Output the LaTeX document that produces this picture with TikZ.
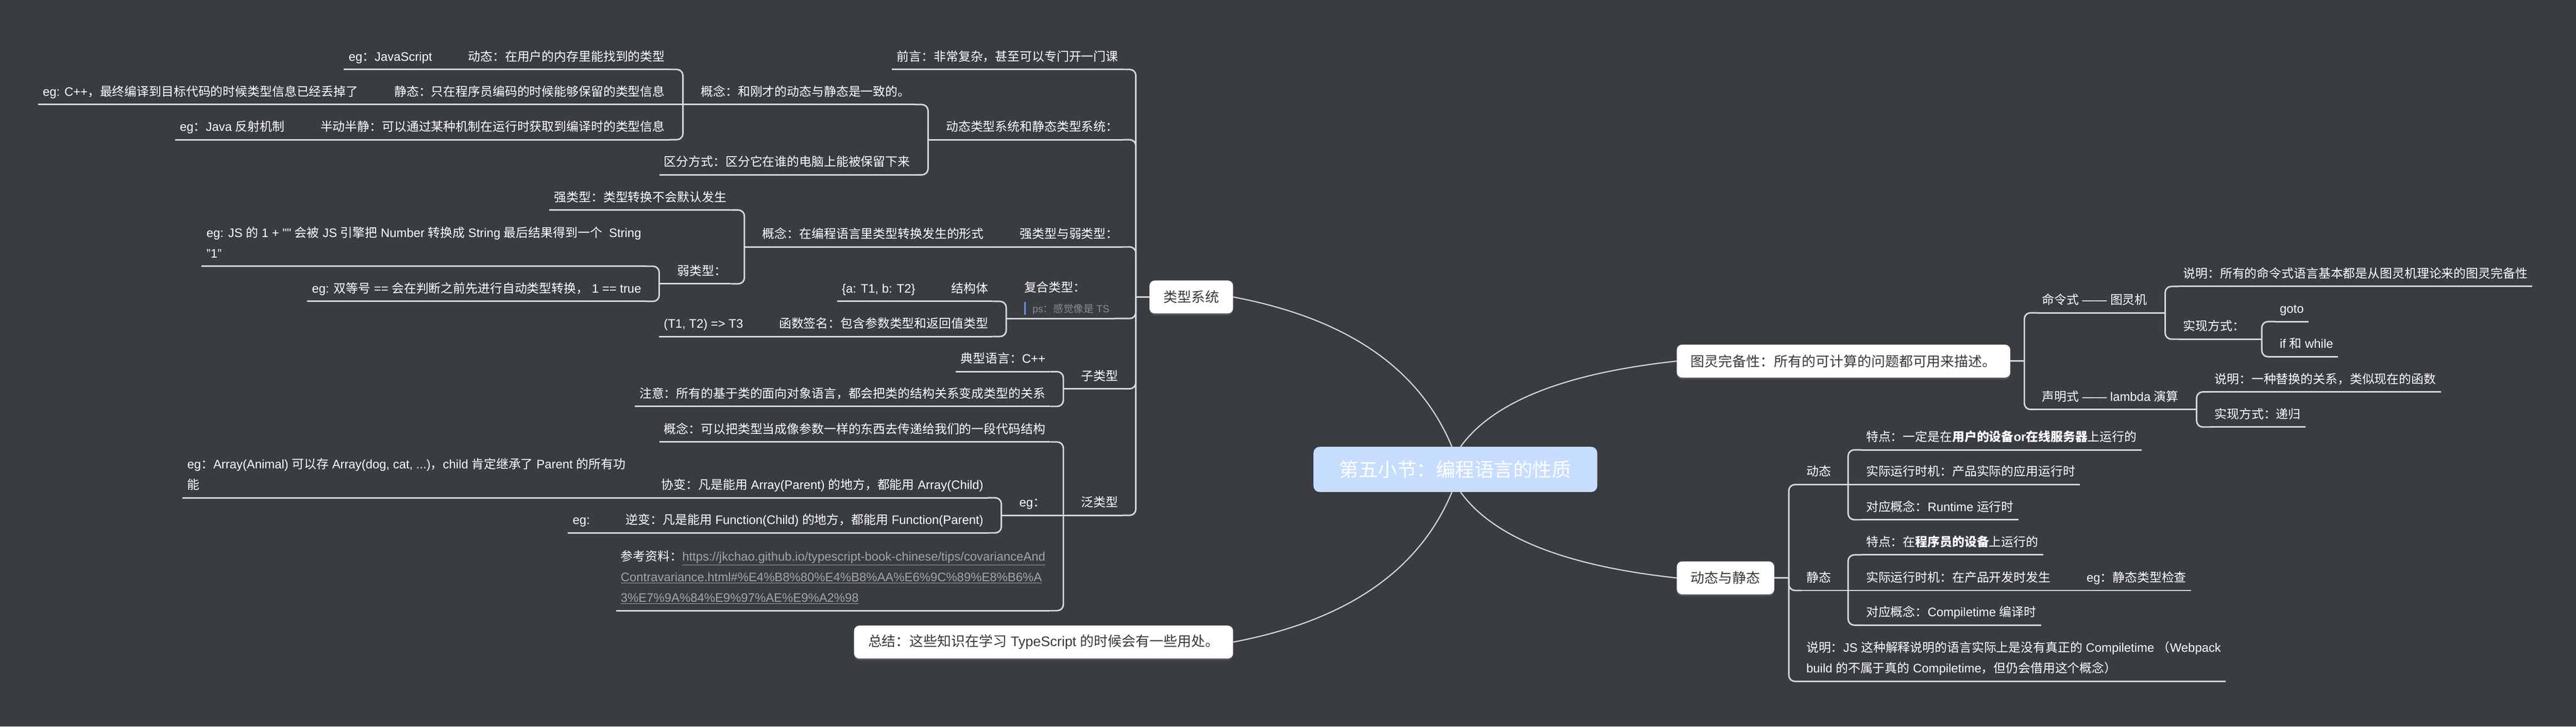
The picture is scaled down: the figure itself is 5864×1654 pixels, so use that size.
\documentclass[tikz,border=0pt]{standalone}
\usepackage{fontspec}
\setmainfont{Liberation Sans}
\newfontfamily\latfont{Liberation Sans}
\newfontfamily\cjkfont{Noto Sans CJK SC}
\usetikzlibrary{calc,shadows}

\definecolor{bgdark}{HTML}{393C41}
\definecolor{linegrey}{HTML}{D9D9D9}
\definecolor{rootblue}{HTML}{C6DDFF}
\definecolor{boxtext}{HTML}{383838}
\definecolor{linkgrey}{HTML}{A5A5A5}
\definecolor{notegrey}{HTML}{8C8C8C}
\definecolor{barblue}{HTML}{6B93F5}

% Han characters and full-width punctuation in Noto Sans CJK, the rest in Liberation Sans
\XeTeXinterchartokenstate=1
\newXeTeXintercharclass\hanclass
\newcount\hancnt
\newcommand\hanrange[2]{\hancnt=#1\relax
  \loop\XeTeXcharclass\hancnt=\hanclass\relax
  \advance\hancnt by 1\relax
  \ifnum\hancnt<#2\relax\repeat}
\hanrange{"3000}{"3040}
\hanrange{"4E00}{"A000}
\hanrange{"FF00}{"FFF0}
\XeTeXinterchartoks 0 \hanclass = {\cjkfont}
\XeTeXinterchartoks 4095 \hanclass = {\cjkfont}
\XeTeXinterchartoks \hanclass 0 = {\latfont}
\XeTeXinterchartoks \hanclass 4095 = {\latfont}

\begin{document}
\begin{tikzpicture}[x=0.5pt, y=-0.5pt,
    topic/.style={font=\fontsize{14}{23.5}\selectfont, text=white, inner xsep=5.5pt, inner ysep=0pt, outer sep=0pt, text depth=9.7pt},
    lft/.style={topic, anchor=south east},
    rgt/.style={topic, anchor=south west},
    mainbox/.style={fill=white, rounded corners=6pt, text=boxtext, font=\fontsize{15.8}{18}\selectfont, inner xsep=16pt, inner ysep=0pt, outer sep=0pt, minimum height=37.5pt, drop shadow={shadow xshift=0pt, shadow yshift=-2pt, opacity=.35}},
    rootbox/.style={fill=rootblue, rounded corners=7pt, text=white, font=\fontsize{22}{26}\selectfont, minimum width=323pt, minimum height=51.5pt},
    branch/.style={draw=linegrey, line width=1.7pt},
    rootlink/.style={draw=linegrey, line width=1.3pt}]
    \useasboundingbox (0,0) rectangle (5864,1654);
    \fill[bgdark] (0,0) rectangle (5864,1654);

    \node[rootbox] (root) at (3313,1068.5) {第五小节：编程语言的性质};
    \node[mainbox, anchor=east] (types) at (2807,676) {类型系统};
    \node[mainbox, anchor=west] (turing) at (3817,822) {图灵完备性：所有的可计算的问题都可用来描述。};
    \node[mainbox, anchor=west] (dynsta) at (3817,1315.5) {动态与静态};
    \node[mainbox, anchor=east] (summary) at (2807,1461.5) {总结：这些知识在学习 TypeScript 的时候会有一些用处。};

    \draw[rootlink] (types.east) .. controls +(254,48) and +(-76,-182) .. ($(root.north)+(-8,0)$);
    \draw[rootlink] (turing.west) .. controls +(-251,27) and +(75,-104) .. ($(root.north)+(12,0)$);
    \draw[rootlink] (dynsta.west) .. controls +(-251,-27) and +(75,104) .. ($(root.south)+(12,0)$);
    \draw[rootlink] (summary.east) .. controls +(254,-48) and +(-76,182) .. ($(root.south)+(-8,0)$);

    % type system
    \node[lft] (preface) at ($(types.west)+(-60,-518)$) {前言：非常复杂，甚至可以专门开一门课};
    \node[lft] (dynstat) at ($(types.west)+(-60,-358)$) {动态类型系统和静态类型系统：};
    \node[lft] (strongweak) at ($(types.west)+(-60,-114)$) {强类型与弱类型：};
    \node[lft, text depth=7pt] (compound) at ($(types.west)+(-80,49)$) {\vbox{\hbox{复合类型：}\hbox{{\color{barblue}\vrule width 2pt height 12pt depth 3pt}\hspace{7.5pt}{\color{notegrey}\fontsize{11.5}{14}\selectfont ps：感觉像是 TS}}}};
    \node[lft] (subtype) at ($(types.west)+(-60,209)$) {子类型};
    \node[lft] (generic) at ($(types.west)+(-60,497)$) {泛类型};

    \node[lft] (conceptA) at ($(dynstat.south west)+(-60,-80)$) {概念：和刚才的动态与静态是一致的。};
    \node[lft] (distinguish) at ($(dynstat.south west)+(-60,80)$) {区分方式：区分它在谁的电脑上能被保留下来};
    \node[lft] (dynA) at ($(conceptA.south west)+(-60,-80)$) {动态：在用户的内存里能找到的类型};
    \node[lft] (staA) at ($(conceptA.south west)+(-60,0)$) {静态：只在程序员编码的时候能够保留的类型信息};
    \node[lft] (halfA) at ($(conceptA.south west)+(-60,80)$) {半动半静：可以通过某种机制在运行时获取到编译时的类型信息};
    \node[lft] (egJS) at ($(dynA.south west)+(-60,0)$) {eg：JavaScript};
    \node[lft] (egCpp) at ($(staA.south west)+(-60,0)$) {eg: C++，最终编译到目标代码的时候类型信息已经丢掉了};
    \node[lft] (egJava) at ($(halfA.south west)+(-60,0)$) {eg：Java 反射机制};

    \node[lft] (conceptB) at ($(strongweak.south west)+(-60,0)$) {概念：在编程语言里类型转换发生的形式};
    \node[lft] (strong) at ($(conceptB.south west)+(-60,-84)$) {强类型：类型转换不会默认发生};
    \node[lft] (weak) at ($(conceptB.south west)+(-60,84)$) {弱类型：};
    \node[lft] (egPlus) at ($(weak.south west)+(-60,-40)$) {\vbox{\hbox{eg: JS 的 1 + "" 会被 JS 引擎把 Number 转换成 String 最后结果得到一个 \ String}\hbox{"1"}}};
    \node[lft] (egEq) at ($(weak.south west)+(-60,40)$) {eg: 双等号 == 会在判断之前先进行自动类型转换， 1 == true};

    \node[lft] (struct) at ($(compound.south west)+(-60,-39)$) {结构体};
    \node[lft] (funcsig) at ($(compound.south west)+(-60,41)$) {函数签名：包含参数类型和返回值类型};
    \node[lft] (structEx) at ($(struct.south west)+(-60,0)$) {\{a: T1, b: T2\}};
    \node[lft] (funcEx) at ($(funcsig.south west)+(-60,0)$) {(T1, T2) => T3};

    \node[lft] (typical) at ($(subtype.south west)+(-60,-39)$) {典型语言：C++};
    \node[lft] (caution) at ($(subtype.south west)+(-60,40)$) {注意：所有的基于类的面向对象语言，都会把类的结构关系变成类型的关系};

    \node[lft] (conceptC) at ($(generic.south west)+(-60,-167)$) {概念：可以把类型当成像参数一样的东西去传递给我们的一段代码结构};
    \node[lft] (egVar) at ($(generic.south west)+(-60,0)$) {eg：};
    \node[lft] (reference) at ($(generic.south west)+(-60,217)$) {\vbox{\hbox{参考资料：{\color{linkgrey}\underline{https://jkchao.github.io/typescript-book-chinese/tips/covarianceAnd}}}\hbox{\color{linkgrey}\underline{Contravariance.html\#\%E4\%B8\%80\%E4\%B8\%AA\%E6\%9C\%89\%E8\%B6\%A}}\hbox{\color{linkgrey}\underline{3\%E7\%9A\%84\%E9\%97\%AE\%E9\%A2\%98}}}};
    \node[lft] (covariant) at ($(egVar.south west)+(-60,-40)$) {协变：凡是能用 Array(Parent) 的地方，都能用 Array(Child)};
    \node[lft] (contravariant) at ($(egVar.south west)+(-60,40)$) {逆变：凡是能用 Function(Child) 的地方，都能用 Function(Parent)};
    \node[lft] (covEx) at ($(covariant.south west)+(-60,0)$) {\vbox{\hbox{eg：Array(Animal) 可以存 Array(dog, cat, ...)，child 肯定继承了 Parent 的所有功}\hbox{能}}};
    \node[lft] (contraEx) at ($(contravariant.south west)+(-60,0)$) {eg:};

    % turing completeness
    \node[rgt] (imperative) at ($(turing.east)+(61,-110)$) {命令式 —— 图灵机};
    \node[rgt] (declarative) at ($(turing.east)+(61,110)$) {声明式 —— lambda 演算};
    \node[rgt] (impNote) at ($(imperative.south east)+(60,-60)$) {说明：所有的命令式语言基本都是从图灵机理论来的图灵完备性};
    \node[rgt] (impWay) at ($(imperative.south east)+(60,60)$) {实现方式：};
    \node[rgt] (gotoStmt) at ($(impWay.south east)+(58,-40)$) {goto};
    \node[rgt] (ifWhile) at ($(impWay.south east)+(58,40)$) {if 和 while};
    \node[rgt] (decNote) at ($(declarative.south east)+(60,-40)$) {说明：一种替换的关系，类似现在的函数};
    \node[rgt] (decWay) at ($(declarative.south east)+(60,40)$) {实现方式：递归};

    % dynamic and static
    \node[rgt] (dynamic) at ($(dynsta.east)+(62,-212.5)$) {动态};
    \node[rgt] (static) at ($(dynsta.east)+(62,28.5)$) {静态};
    \node[rgt] (jsNote) at ($(dynsta.east)+(62,235.5)$) {\vbox{\hbox{说明：JS 这种解释说明的语言实际上是没有真正的 Compiletime （Webpack}\hbox{build 的不属于真的 Compiletime，但仍会借用这个概念）}}};
    \node[rgt] (dynFeat) at ($(dynamic.south east)+(58,-79)$) {特点：一定是在\textbf{用户的设备or在线服务器}上运行的};
    \node[rgt] (dynTime) at ($(dynamic.south east)+(58,0)$) {实际运行时机：产品实际的应用运行时};
    \node[rgt] (dynConc) at ($(dynamic.south east)+(58,80)$) {对应概念：Runtime 运行时};
    \node[rgt] (staFeat) at ($(static.south east)+(58,-81)$) {特点：在\textbf{程序员的设备}上运行的};
    \node[rgt] (staTime) at ($(static.south east)+(58,0)$) {实际运行时机：在产品开发时发生};
    \node[rgt] (staConc) at ($(static.south east)+(58,79)$) {对应概念：Compiletime 编译时};
    \node[rgt] (staEx) at ($(staTime.south east)+(60,0)$) {eg：静态类型检查};

    % junctions of the brackets
    \coordinate (jTypes) at ($(types.west)+(-31,0)$);
    \coordinate (jDynstat) at ($(dynstat.south west)+(-30,0)$);
    \coordinate (jConceptA) at ($(conceptA.south west)+(-30,0)$);
    \coordinate (jConceptB) at ($(conceptB.south west)+(-30,0)$);
    \coordinate (jWeak) at ($(weak.south west)+(-30,0)$);
    \coordinate (jCompound) at ($(compound.south west)+(-30,0)$);
    \coordinate (jSubtype) at ($(subtype.south west)+(-30,0)$);
    \coordinate (jGeneric) at ($(generic.south west)+(-30,0)$);
    \coordinate (jEgVar) at ($(egVar.south west)+(-30,0)$);
    \coordinate (jTuring) at ($(turing.east)+(32,0)$);
    \coordinate (jDynsta) at ($(dynsta.east)+(33,0)$);
    \coordinate (jImperative) at ($(imperative.south east)+(30,0)$);
    \coordinate (jImpWay) at ($(impWay.south east)+(28,0)$);
    \coordinate (jDeclarative) at ($(declarative.south east)+(30,0)$);
    \coordinate (jDynamic) at ($(dynamic.south east)+(28,0)$);
    \coordinate (jStatic) at ($(static.south east)+(28,0)$);

    \foreach \n in {preface, dynstat, strongweak, compound, subtype, generic, conceptA, distinguish, dynA, staA, halfA, egJS, egCpp, egJava, conceptB, strong, weak, egPlus, egEq, struct, funcsig, structEx, funcEx, typical, caution, conceptC, egVar, reference, covariant, contravariant, covEx, contraEx, imperative, declarative, impNote, impWay, gotoStmt, ifWhile, decNote, decWay, dynamic, static, jsNote, dynFeat, dynTime, dynConc, staFeat, staTime, staConc, staEx}
      \draw[branch] (\n.south west) -- (\n.south east);

    \foreach \c/\j in {preface/jTypes, dynstat/jTypes, strongweak/jTypes, compound/jTypes, subtype/jTypes, generic/jTypes, conceptA/jDynstat, distinguish/jDynstat, dynA/jConceptA, halfA/jConceptA, strong/jConceptB, weak/jConceptB, egPlus/jWeak, egEq/jWeak, struct/jCompound, funcsig/jCompound, typical/jSubtype, caution/jSubtype, conceptC/jGeneric, reference/jGeneric, covariant/jEgVar, contravariant/jEgVar}
      \draw[branch, rounded corners=7pt] (\c.south east) -| (\j);
    \foreach \c/\j in {imperative/jTuring, declarative/jTuring, impNote/jImperative, impWay/jImperative, gotoStmt/jImpWay, ifWhile/jImpWay, decNote/jDeclarative, decWay/jDeclarative, dynamic/jDynsta, static/jDynsta, jsNote/jDynsta, dynFeat/jDynamic, dynConc/jDynamic, staFeat/jStatic, staConc/jStatic}
      \draw[branch, rounded corners=7pt] (\c.south west) -| (\j);

    \foreach \c/\p in {staA/conceptA, egJS/dynA, egCpp/staA, egJava/halfA, conceptB/strongweak, structEx/struct, funcEx/funcsig, egVar/generic, covEx/covariant, contraEx/contravariant}
      \draw[branch] (\c.south east) -- (\p.south west);
    \foreach \c/\p in {dynTime/dynamic, staTime/static, staEx/staTime}
      \draw[branch] (\c.south west) -- (\p.south east);

    \foreach \j/\p in {jTypes/types.west, jDynstat/dynstat.south west, jConceptA/conceptA.south west, jConceptB/conceptB.south west, jWeak/weak.south west, jCompound/compound.south west, jSubtype/subtype.south west, jGeneric/generic.south west, jEgVar/egVar.south west, jTuring/turing.east, jDynsta/dynsta.east, jImperative/imperative.south east, jImpWay/impWay.south east, jDeclarative/declarative.south east, jDynamic/dynamic.south east, jStatic/static.south east}
      \draw[branch] (\j) -- (\p);
\end{tikzpicture}
\end{document}
